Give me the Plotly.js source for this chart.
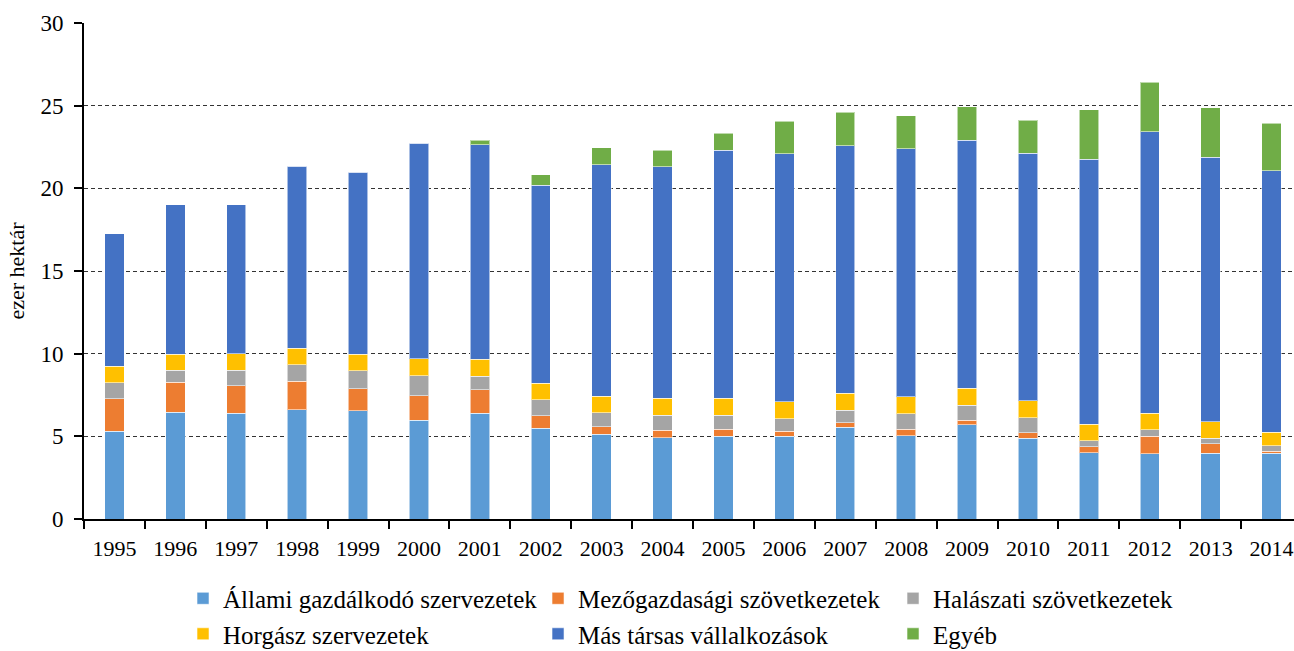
<!DOCTYPE html>
<html>
<head>
<meta charset="utf-8">
<script src="https://cdn.plot.ly/plotly-3.0.1.min.js"></script>
<style>
html,body{margin:0;padding:0;overflow:hidden;background:#fff;}
#chart{width:1302px;height:651px;}
</style>
</head>
<body>
<div id="chart"></div>
<script>
const years = ["1995","1996","1997","1998","1999","2000","2001","2002","2003","2004","2005","2006","2007","2008","2009","2010","2011","2012","2013","2014"];
const allami = [5.32,6.45,6.39,6.61,6.55,5.97,6.39,5.48,5.12,4.92,5.02,5.02,5.54,5.04,5.69,4.88,4.01,3.95,3.99,3.97];
const mezogazdasagi = [1.94,1.82,1.67,1.72,1.33,1.49,1.43,0.77,0.46,0.44,0.42,0.30,0.29,0.38,0.28,0.34,0.37,1.07,0.57,0.14];
const halaszati = [0.99,0.72,0.93,1.00,1.09,1.21,0.81,0.97,0.85,0.93,0.85,0.73,0.74,0.95,0.90,0.91,0.36,0.38,0.32,0.31];
const horgasz = [0.98,0.99,1.01,1.01,0.99,1.03,1.03,0.99,0.99,1.01,1.01,1.03,1.05,1.01,1.03,1.01,0.99,1.01,0.99,0.82];
const mas = [8.03,9.03,9.01,10.99,11.01,13.02,12.98,11.99,14.01,14.01,15.00,15.00,14.96,15.00,15.00,14.98,16.02,17.02,16.01,15.81];
const egyeb = [0,0,0,0,0,0,0.28,0.61,1.01,0.99,1.03,1.99,2.02,2.00,2.02,2.01,2.99,2.98,2.98,2.90];

const seriesNames = ["Állami gazdálkodó szervezetek","Mezőgazdasági szövetkezetek","Halászati szövetkezetek","Horgász szervezetek","Más társas vállalkozások","Egyéb"];
const seriesColors = ["#5B9BD5","#ED7D31","#A5A5A5","#FFC000","#4472C4","#70AD47"];
const seriesValues = [allami, mezogazdasagi, halaszati, horgasz, mas, egyeb];

const font = "'Liberation Serif', 'Times New Roman', serif";

const traces = seriesValues.map((vals, i) => ({
  type: 'bar',
  name: seriesNames[i],
  x: years,
  y: vals,
  marker: {color: seriesColors[i], line: {color: 'rgba(255,255,255,0.55)', width: 1}},
  hoverinfo: 'x+y+name'
}));

const layout = {
  width: 1302,
  height: 651,
  barmode: 'stack',
  bargap: 0.68,
  paper_bgcolor: '#fff',
  plot_bgcolor: '#fff',
  margin: {l: 84, r: 0, t: 23, b: 132, autoexpand: false},
  font: {family: font, size: 22, color: '#000'},
  xaxis: {
    type: 'category',
    showline: true, linecolor: '#000', linewidth: 2,
    ticks: 'outside', ticklen: 8, tickwidth: 2, tickcolor: '#000',
    tickson: 'boundaries',
    ticklabelstandoff: 9,
    showgrid: false,
    tickfont: {family: font, size: 22, color: '#000'},
    zeroline: false
  },
  yaxis: {
    range: [0, 30],
    dtick: 5,
    showline: true, linecolor: '#000', linewidth: 2,
    ticks: 'outside', ticklen: 8, tickwidth: 2, tickcolor: '#000',
    ticklabelstandoff: 6,
    showgrid: true, gridcolor: '#333', gridwidth: 1, griddash: '4px,3px',
    zeroline: false,
    tickfont: {family: font, size: 23, color: '#000'},
    title: {text: 'ezer hektár', font: {family: font, size: 22, color: '#000'}, standoff: 10}
  },
  showlegend: true,
  legend: {
    orientation: 'h',
    x: 0.0813, xanchor: 'left',
    y: -0.114, yanchor: 'top',
    entrywidth: 310, entrywidthmode: 'pixels',
    font: {family: font, size: 25, color: '#000'},
    traceorder: 'normal',
    itemclick: false
  }
};

Plotly.newPlot('chart', traces, layout, {displayModeBar: false, staticPlot: true});
</script>
</body>
</html>
